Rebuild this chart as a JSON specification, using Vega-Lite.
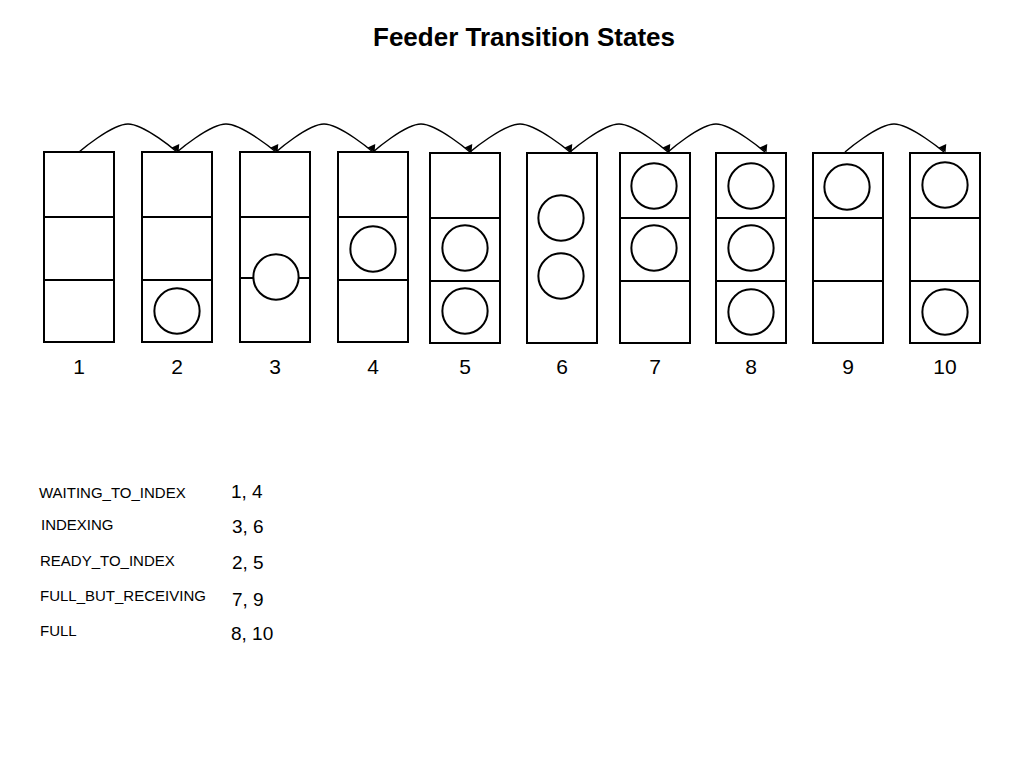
{
  "$schema": "https://vega.github.io/schema/vega-lite/v6.json",
  "autosize": {"type": "fit", "contains": "padding"},
  "width": 1024,
  "height": 768,
  "padding": 0,
  "config": {"view": {"stroke": null}, "font": "Liberation Sans"},
  "encoding": {
    "x": {"type": "quantitative", "scale": {"domain": [0, 1024], "nice": false, "zero": false}, "axis": null},
    "y": {"type": "quantitative", "scale": {"domain": [0, 768], "reverse": true, "nice": false, "zero": false}, "axis": null}
  },
  "layer": [
    {
      "data": {"values": [
        {"col": 1, "x0": 44, "x1": 114, "y0": 152, "y1": 342},
        {"col": 2, "x0": 142, "x1": 212, "y0": 152, "y1": 342},
        {"col": 3, "x0": 240, "x1": 310, "y0": 152, "y1": 342},
        {"col": 4, "x0": 338, "x1": 408, "y0": 152, "y1": 342},
        {"col": 5, "x0": 430, "x1": 500, "y0": 153, "y1": 343},
        {"col": 6, "x0": 527, "x1": 597, "y0": 153, "y1": 343},
        {"col": 7, "x0": 620, "x1": 690, "y0": 153, "y1": 343},
        {"col": 8, "x0": 716, "x1": 786, "y0": 153, "y1": 343},
        {"col": 9, "x0": 813, "x1": 883, "y0": 153, "y1": 343},
        {"col": 10, "x0": 910, "x1": 980, "y0": 153, "y1": 343}
      ]},
      "layer": [
        {
          "mark": {"type": "rect", "fill": "white", "stroke": "black", "strokeWidth": 2},
          "encoding": {"x": {"field": "x0"}, "x2": {"field": "x1"}, "y": {"field": "y0"}, "y2": {"field": "y1"}}
        },
        {
          "mark": {"type": "text", "fontSize": 21, "baseline": "middle"},
          "encoding": {"x": {"field": "mid"}, "y": {"field": "ly"}, "text": {"field": "col"}},
          "transform": [{"calculate": "(datum.x0 + datum.x1) / 2 - 0", "as": "mid"}, {"calculate": "368", "as": "ly"}]
        }
      ]
    },
    {
      "data": {"values": [
        {"x0": 44, "x1": 114, "y": 217}, {"x0": 44, "x1": 114, "y": 280},
        {"x0": 142, "x1": 212, "y": 217}, {"x0": 142, "x1": 212, "y": 280},
        {"x0": 240, "x1": 310, "y": 217}, {"x0": 240, "x1": 310, "y": 278},
        {"x0": 338, "x1": 408, "y": 217}, {"x0": 338, "x1": 408, "y": 280},
        {"x0": 430, "x1": 500, "y": 218}, {"x0": 430, "x1": 500, "y": 281},
        {"x0": 620, "x1": 690, "y": 218}, {"x0": 620, "x1": 690, "y": 281},
        {"x0": 716, "x1": 786, "y": 218}, {"x0": 716, "x1": 786, "y": 281},
        {"x0": 813, "x1": 883, "y": 218}, {"x0": 813, "x1": 883, "y": 281},
        {"x0": 910, "x1": 980, "y": 218}, {"x0": 910, "x1": 980, "y": 281}
      ]},
      "mark": {"type": "rule", "color": "black", "strokeWidth": 2},
      "encoding": {"x": {"field": "x0"}, "x2": {"field": "x1"}, "y": {"field": "y"}}
    },
    {
      "data": {"values": [
        {"x": 177, "y": 311}, {"x": 276, "y": 277}, {"x": 373, "y": 249},
        {"x": 465, "y": 248}, {"x": 465, "y": 311},
        {"x": 561, "y": 218}, {"x": 561, "y": 276},
        {"x": 654, "y": 186}, {"x": 654, "y": 248},
        {"x": 751, "y": 186}, {"x": 751, "y": 248}, {"x": 751, "y": 312},
        {"x": 847, "y": 187},
        {"x": 945, "y": 185}, {"x": 945, "y": 312}
      ]},
      "mark": {"type": "circle", "size": 2050, "fill": "white", "opacity": 1, "stroke": "black", "strokeWidth": 2},
      "encoding": {"x": {"field": "x"}, "y": {"field": "y"}}
    },
    {
      "data": {"values": [
        {"a": 1, "o": 0, "x": 79, "y": 152}, {"a": 1, "o": 1, "x": 128, "y": 124}, {"a": 1, "o": 2, "x": 177, "y": 152},
        {"a": 2, "o": 0, "x": 177, "y": 152}, {"a": 2, "o": 1, "x": 226, "y": 124}, {"a": 2, "o": 2, "x": 276, "y": 152},
        {"a": 3, "o": 0, "x": 276, "y": 152}, {"a": 3, "o": 1, "x": 324, "y": 124}, {"a": 3, "o": 2, "x": 373, "y": 152},
        {"a": 4, "o": 0, "x": 373, "y": 152}, {"a": 4, "o": 1, "x": 421, "y": 124}, {"a": 4, "o": 2, "x": 470, "y": 152},
        {"a": 5, "o": 0, "x": 470, "y": 152}, {"a": 5, "o": 1, "x": 520, "y": 124}, {"a": 5, "o": 2, "x": 570, "y": 152},
        {"a": 6, "o": 0, "x": 570, "y": 152}, {"a": 6, "o": 1, "x": 619, "y": 124}, {"a": 6, "o": 2, "x": 668, "y": 152},
        {"a": 7, "o": 0, "x": 668, "y": 152}, {"a": 7, "o": 1, "x": 716, "y": 124}, {"a": 7, "o": 2, "x": 765, "y": 152},
        {"a": 9, "o": 0, "x": 845, "y": 152}, {"a": 9, "o": 1, "x": 894, "y": 124}, {"a": 9, "o": 2, "x": 944, "y": 152}
      ]},
      "layer": [
        {
          "mark": {"type": "line", "interpolate": "cardinal", "color": "black", "strokeWidth": 1.5},
          "encoding": {"x": {"field": "x"}, "y": {"field": "y"}, "detail": {"field": "a"}, "order": {"field": "o"}}
        },
        {
          "transform": [{"filter": "datum.o == 2"}],
          "mark": {"type": "point", "shape": "triangle-down", "filled": true, "color": "black", "size": 70, "opacity": 1, "angle": -25, "yOffset": -3},
          "encoding": {"x": {"field": "x"}, "y": {"field": "y"}}
        }
      ]
    },
    {
      "data": {"values": [
        {"t": "Feeder Transition States", "x": 524, "y": 38}
      ]},
      "mark": {"type": "text", "fontSize": 26, "fontWeight": "bold", "baseline": "middle"},
      "encoding": {"x": {"field": "x"}, "y": {"field": "y"}, "text": {"field": "t"}}
    },
    {
      "data": {"values": [
        {"t": "WAITING_TO_INDEX", "x": 39, "y": 493},
        {"t": "INDEXING", "x": 41, "y": 525},
        {"t": "READY_TO_INDEX", "x": 40, "y": 561},
        {"t": "FULL_BUT_RECEIVING", "x": 40, "y": 596},
        {"t": "FULL", "x": 40, "y": 631}
      ]},
      "mark": {"type": "text", "fontSize": 15, "align": "left", "baseline": "middle"},
      "encoding": {"x": {"field": "x"}, "y": {"field": "y"}, "text": {"field": "t"}}
    },
    {
      "data": {"values": [
        {"t": "1, 4", "x": 231, "y": 492},
        {"t": "3, 6", "x": 232, "y": 527},
        {"t": "2, 5", "x": 232, "y": 563},
        {"t": "7, 9", "x": 232, "y": 600},
        {"t": "8, 10", "x": 231, "y": 634}
      ]},
      "mark": {"type": "text", "fontSize": 19, "align": "left", "baseline": "middle"},
      "encoding": {"x": {"field": "x"}, "y": {"field": "y"}, "text": {"field": "t"}}
    }
  ]
}
